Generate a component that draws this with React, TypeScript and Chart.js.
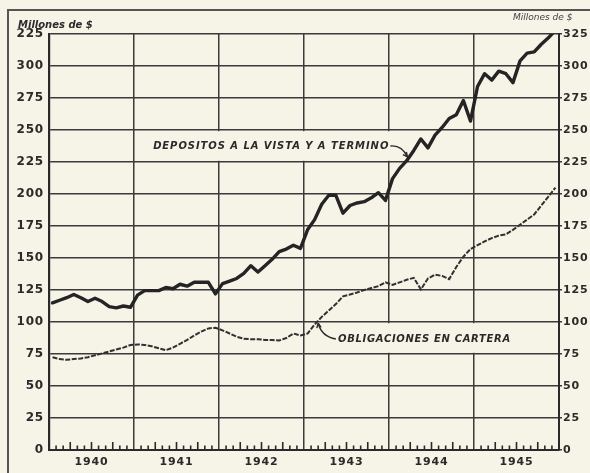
import React, { useEffect, useRef } from 'react';
import { Chart, registerables } from 'chart.js';

Chart.register(...registerables);

const years = ['1940', '1941', '1942', '1943', '1944', '1945'];

const depositos = [
  115, 117, 119, 121.5, 119, 116, 118.5, 116, 112, 111, 112.5, 111.5,
  121, 124.5, 124.5, 124.5, 127, 126, 129.5, 128, 131, 131, 131, 122,
  130, 132, 134, 138, 144, 139, 144, 149, 155, 157, 160, 157.5,
  172, 180, 192, 199, 199, 185, 191, 193, 194, 197, 201, 195,
  212, 220, 226, 234, 243, 236, 246, 252, 259, 262, 273, 257,
  284, 294, 289, 296, 294, 287, 304, 310, 311, 317, 322, 328,
];

const obligaciones = [
  72.5, 71, 70.5, 71, 71.5, 72.5, 74, 75.5, 77, 78.5, 80, 82,
  82.5, 82, 81, 79.5, 78, 80, 83, 86, 89.5, 92.5, 95, 95.5,
  93.5, 91, 88.5, 87, 86.5, 86.5, 86, 86, 85.5, 87.5, 91, 89.5,
  91, 98, 104, 109, 114, 120, 121.5, 123, 125, 126.5, 128, 131,
  129, 131, 133, 134.5, 125.5, 134, 137, 136, 133.5, 143, 151, 157,
  160, 163, 165.5, 167.5, 168.5, 172, 176, 180, 184, 191, 198, 205,
];

const yTicks = [0, 25, 50, 75, 100, 125, 150, 175, 200, 225, 250, 275, 300, 325];
const leftTickLabels = ['0', '25', '50', '75', '100', '125', '150', '175', '200', '225', '250', '275', '300', '225'];
const rightTickLabels = ['0', '25', '50', '75', '100', '125', '150', '175', '200', '225', '250', '275', '300', '325'];

const leftUnit = 'Millones de $';
const rightUnit = 'Millones de $';
const depLabel = 'DEPOSITOS A LA VISTA Y A TERMINO';
const oblLabel = 'OBLIGACIONES EN CARTERA';

const BG = '#f6f3e7';
const INK = '#2a2a2a';
const GRID = '#3a3a3a';

function spacedText(ctx: CanvasRenderingContext2D, text: string, x: number, y: number, font: string, width: number) {
  ctx.font = font;
  (ctx as any).letterSpacing = '0px';
  const w = ctx.measureText(text).width;
  const sp = (width - w) / Math.max(1, text.length - 1);
  (ctx as any).letterSpacing = sp.toFixed(2) + 'px';
  ctx.textAlign = 'left';
  ctx.textBaseline = 'middle';
  ctx.fillText(text, x, y);
  (ctx as any).letterSpacing = '0px';
}

function arrowHead(ctx: CanvasRenderingContext2D, fx: number, fy: number, tx: number, ty: number) {
  const a = Math.atan2(ty - fy, tx - fx);
  const L = 5;
  ctx.beginPath();
  ctx.moveTo(tx, ty);
  ctx.lineTo(tx - L * Math.cos(a - 0.45), ty - L * Math.sin(a - 0.45));
  ctx.moveTo(tx, ty);
  ctx.lineTo(tx - L * Math.cos(a + 0.45), ty - L * Math.sin(a + 0.45));
  ctx.stroke();
}

const decorPlugin = {
  id: 'decor',
  beforeDraw(chart: any) {
    const ctx = chart.ctx as CanvasRenderingContext2D;
    ctx.save();
    ctx.fillStyle = BG;
    ctx.fillRect(0, 0, chart.width, chart.height);
    ctx.restore();
    (ctx as any).letterSpacing = '0.8px';
  },
  beforeDatasetsDraw(chart: any) {
    const ctx = chart.ctx as CanvasRenderingContext2D;
    const xs = chart.scales.x;
    const ys = chart.scales.y;
    const px = (m: number) => xs.getPixelForValue(m);
    const py = (v: number) => ys.getPixelForValue(v);
    ctx.save();
    ctx.fillStyle = BG;
    ctx.fillRect(px(13.6), py(250) + 1.2, px(49.3) - px(13.6), py(225) - py(250) - 2.4);
    ctx.fillRect(px(40.0), py(100) + 1.2, px(66.8) - px(40.0), py(75) - py(100) - 2.4);
    ctx.restore();
  },
  afterDraw(chart: any) {
    const ctx = chart.ctx as CanvasRenderingContext2D;
    const xs = chart.scales.x;
    const ys = chart.scales.y;
    const px = (m: number) => xs.getPixelForValue(m);
    const py = (v: number) => ys.getPixelForValue(v);
    const area = chart.chartArea;
    ctx.save();
    (ctx as any).letterSpacing = '0px';
    ctx.strokeStyle = INK;
    ctx.lineWidth = 1.6;
    for (let m = 1; m < 72; m++) {
      if (m % 12 === 0) continue;
      const len = m % 3 === 0 ? 8 : 4.5;
      const x = px(m);
      ctx.beginPath();
      ctx.moveTo(x, area.bottom);
      ctx.lineTo(x, area.bottom - len);
      ctx.stroke();
    }
    ctx.fillStyle = INK;
    const annFont = 'italic bold 10px "DejaVu Sans"';
    spacedText(ctx, depLabel, px(14.7), py(237.5), annFont, px(47.9) - px(14.7));
    spacedText(ctx, oblLabel, px(40.8), py(86.7), annFont, px(65.1) - px(40.8));
    ctx.lineWidth = 1.4;
    ctx.beginPath();
    ctx.moveTo(px(48.2), py(237.5));
    ctx.quadraticCurveTo(px(49.8), py(238.5), px(50.6), py(229));
    ctx.stroke();
    arrowHead(ctx, px(49.9), py(234), px(50.6), py(229));
    ctx.beginPath();
    ctx.moveTo(px(40.5), py(86.7));
    ctx.quadraticCurveTo(px(38.5), py(88.5), px(38.0), py(99));
    ctx.stroke();
    arrowHead(ctx, px(38.2), py(93), px(38.0), py(99));
    ctx.font = 'italic bold 10px "DejaVu Sans"';
    ctx.textBaseline = 'middle';
    ctx.textAlign = 'left';
    ctx.fillText(leftUnit, 18, 25);
    ctx.font = 'italic 9px "DejaVu Sans"';
    ctx.fillStyle = '#444';
    ctx.fillText(rightUnit, 513, 18);
    ctx.strokeStyle = '#555';
    ctx.lineWidth = 2;
    ctx.beginPath();
    ctx.moveTo(8, chart.height);
    ctx.lineTo(8, 10);
    ctx.lineTo(chart.width, 10);
    ctx.stroke();
    ctx.restore();
  },
};

export default function App() {
  const ref = useRef<HTMLCanvasElement | null>(null);
  useEffect(() => {
    if (!ref.current) return;
    const chart = new Chart(ref.current, {
      type: 'line',
      data: {
        datasets: [
          {
            label: depLabel,
            data: depositos.map((v, i) => ({ x: i + 0.5, y: v })),
            borderColor: '#242424',
            borderWidth: 3.4,
            pointRadius: 0,
            tension: 0,
            borderJoinStyle: 'round',
            borderCapStyle: 'round',
            yAxisID: 'y',
          },
          {
            label: oblLabel,
            data: obligaciones.map((v, i) => ({ x: i + 0.5, y: v })),
            borderColor: '#303030',
            borderWidth: 2,
            borderDash: [5, 1.5],
            pointRadius: 0,
            tension: 0,
            yAxisID: 'y',
          },
        ],
      },
      options: {
        responsive: false,
        animation: false,
        events: [],
        layout: { padding: { top: 34, left: 0, right: 0, bottom: 0 } },
        plugins: { legend: { display: false }, tooltip: { enabled: false } },
        scales: {
          x: {
            type: 'linear',
            min: 0,
            max: 72,
            afterBuildTicks: (s: any) => {
              s.ticks = [0, 6, 12, 18, 24, 30, 36, 42, 48, 54, 60, 66, 72].map((v) => ({ value: v }));
            },
            afterFit: (s: any) => {
              s.height = 23;
            },
            ticks: {
              autoSkip: false,
              maxRotation: 0,
              padding: 6,
              color: INK,
              font: { family: '"DejaVu Sans"', size: 11, weight: 'bold' },
              callback: (v: any) => (Number(v) % 12 === 6 ? years[(Number(v) - 6) / 12] : ''),
            },
            grid: {
              color: (c: any) => (c.tick && c.tick.value % 12 === 0 ? GRID : 'rgba(0,0,0,0)'),
              lineWidth: 1.5,
              drawTicks: false,
            },
            border: { display: true, color: INK, width: 2 },
          },
          y: {
            position: 'left',
            min: 0,
            max: 325,
            afterBuildTicks: (s: any) => {
              s.ticks = yTicks.map((v) => ({ value: v }));
            },
            afterFit: (s: any) => {
              s.width = 49;
            },
            ticks: {
              padding: 5,
              color: INK,
              font: { family: '"DejaVu Sans"', size: 12, weight: 'bold' },
              callback: (_v: any, i: number) => leftTickLabels[i],
            },
            grid: { color: GRID, lineWidth: 1.5, drawTicks: false },
            border: { display: true, color: INK, width: 2.2 },
          },
          y2: {
            position: 'right',
            min: 0,
            max: 325,
            afterBuildTicks: (s: any) => {
              s.ticks = yTicks.map((v) => ({ value: v }));
            },
            afterFit: (s: any) => {
              s.width = 31;
            },
            ticks: {
              padding: 1,
              color: INK,
              font: { family: '"DejaVu Sans"', size: 11, weight: 'bold' },
              callback: (_v: any, i: number) => rightTickLabels[i],
            },
            grid: { color: GRID, lineWidth: 1.5, drawOnChartArea: false, drawTicks: true, tickLength: 3 },
            border: { display: true, color: INK, width: 2 },
          },
        },
      },
      plugins: [decorPlugin],
    } as any);
    return () => chart.destroy();
  }, []);
  return (
    <div style={{ position: 'fixed', left: 0, top: 0, width: 590, height: 473, background: BG }}>
      <canvas ref={ref} width={590} height={473} style={{ display: 'block' }} />
    </div>
  );
}
